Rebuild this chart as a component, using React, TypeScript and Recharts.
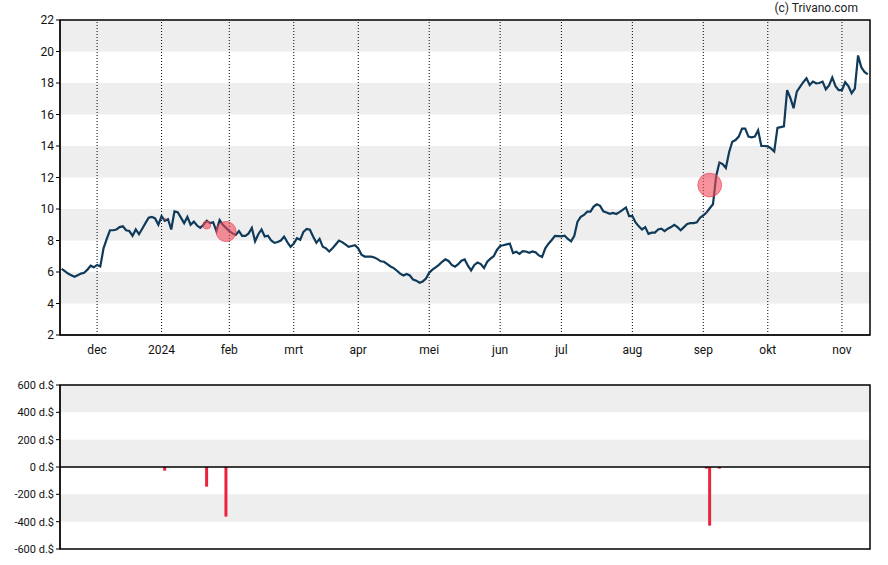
import React from "react";
import {
    ComposedChart,
    Line,
    Bar,
    XAxis,
    YAxis,
    ReferenceArea,
    ReferenceLine,
    ReferenceDot,
} from "recharts";

// closing prices per trading day, grouped by month
const nov23 = [6.2, 6.05, 5.9, 5.8, 5.7, 5.8, 5.9, 5.95, 6.15, 6.4, 6.3];
const dec23 = [6.45, 6.35, 7.5, 8.1, 8.65, 8.65, 8.7, 8.85, 8.9, 8.65, 8.6, 8.3, 8.7, 8.4, 8.75, 9.1, 9.45, 9.5, 9.4, 9.0];
const jan24 = [9.55, 9.25, 9.35, 8.7, 9.85, 9.8, 9.45, 9.1, 9.5, 9.0, 9.2, 8.95, 8.8, 9.0, 9.25, 9.1, 9.15, 8.6, 9.3, 9.0, 8.8];
const feb24 = [8.6, 8.45, 8.35, 8.6, 8.3, 8.3, 8.45, 8.8, 7.95, 8.4, 8.7, 8.25, 8.3, 8.0, 7.85, 7.9, 8.0, 8.25, 7.9, 7.6];
const mar24 = [7.8, 8.15, 8.05, 8.55, 8.73, 8.68, 8.25, 7.85, 8.1, 7.6, 7.5, 7.3, 7.5, 7.75, 8.0, 7.9, 7.75, 7.6, 7.65, 7.7];
const apr24 = [7.5, 7.1, 6.98, 6.97, 6.97, 6.92, 6.82, 6.68, 6.65, 6.5, 6.35, 6.25, 6.08, 5.9, 5.78, 5.88, 5.78, 5.52, 5.45, 5.32, 5.4, 5.58];
const may24 = [5.95, 6.15, 6.3, 6.45, 6.65, 6.8, 6.7, 6.45, 6.34, 6.5, 6.72, 6.8, 6.4, 6.1, 6.45, 6.6, 6.5, 6.25, 6.65, 6.85, 7.0, 7.4];
const jun24 = [7.65, 7.7, 7.75, 7.8, 7.2, 7.28, 7.15, 7.33, 7.3, 7.22, 7.3, 7.25, 7.05, 6.95, 7.5, 7.8, 8.03, 8.29, 8.28];
const jul24 = [8.26, 8.3, 8.1, 7.95, 8.3, 9.2, 9.5, 9.62, 9.83, 9.83, 10.15, 10.3, 10.2, 9.85, 9.78, 9.7, 9.75, 9.68, 9.8, 9.95, 10.1, 9.55];
const aug24 = [9.55, 9.15, 8.9, 8.7, 8.85, 8.42, 8.5, 8.5, 8.7, 8.75, 8.6, 8.75, 8.85, 9.0, 8.85, 8.65, 8.85, 9.05, 9.1, 9.1, 9.15, 9.45];
const sep24 = [9.6, 9.78, 10.05, 10.3, 12.1, 12.95, 12.85, 12.6, 13.6, 14.27, 14.38, 14.6, 15.1, 15.1, 14.6, 14.55, 14.6, 15.0, 14.0, 14.0];
const oct24 = [13.98, 13.85, 13.65, 15.15, 15.2, 15.25, 17.55, 17.05, 16.4, 17.45, 17.75, 18.05, 18.3, 17.87, 18.09, 17.98, 18.0, 18.09, 17.6, 17.85, 18.35, 17.8, 17.55];
const nov24 = [17.55, 18.05, 17.8, 17.35, 17.65, 19.75, 19.0, 18.7, 18.55];

const months = [nov23, dec23, jan24, feb24, mar24, apr24, may24, jun24, jul24, aug24, sep24, oct24, nov24];
const monthLabels = ["", "dec", "2024", "feb", "mrt", "apr", "mei", "jun", "jul", "aug", "sep", "okt", "nov"];

// insider trades: trading-day index, value (d.$), price
const tradeDay = [32, 45, 51, 200, 201, 204];
const tradeValue = [-27, -144, -363, -12, -429, -12];
const tradePrice = [9.37, 8.98, 8.57, 9.8, 11.52, 12.9];

const priceBands = [[20, 22], [16, 18], [12, 14], [8, 10], [4, 6]];
const priceTicks = [2, 4, 6, 8, 10, 12, 14, 16, 18, 20, 22];
const tradeBands = [[400, 600], [0, 200], [-400, -200]];
const tradeTicks = [-600, -400, -200, 0, 200, 400, 600];

const prices = months.flat();
const priceData = prices.map((p, i) => ({ i, p }));

const monthStarts: number[] = [];
const tickLabel: Record<number, string> = {};
let acc = 0;
months.forEach((m, k) => {
    if (k > 0) {
        monthStarts.push(acc);
        tickLabel[acc] = monthLabels[k];
    }
    acc += m.length;
});

const tradeData = tradeDay.map((i, k) => ({ i, v: tradeValue[k] }));

const xDomain = [-0.5, 250.7];
const font = "Roboto, 'Noto Sans', sans-serif";

export default function App() {
    return (
        <div
            style={{
                position: "absolute",
                left: 0,
                top: 0,
                width: 888,
                height: 565,
                background: "#fff",
                fontFamily: font,
            }}
        >
            <div
                style={{
                    position: "absolute",
                    right: 30,
                    top: 1,
                    fontSize: 12,
                    color: "#222",
                }}
            >
                (c) Trivano.com
            </div>
            <ComposedChart
                width={888}
                height={360}
                data={priceData}
                margin={{ top: 20, right: 18, left: 0, bottom: 0 }}
                style={{ position: "absolute", left: 0, top: 0 }}
            >
                {priceBands.map(([a, b]) => (
                    <ReferenceArea
                        key={a}
                        x1={xDomain[0]}
                        x2={xDomain[1]}
                        y1={a}
                        y2={b}
                        fill="#eeeeee"
                        fillOpacity={1}
                        stroke="none"
                    />
                ))}
                {monthStarts.map((m) => (
                    <ReferenceLine
                        key={m}
                        x={m}
                        stroke="#000"
                        strokeDasharray="1 2"
                        strokeWidth={1}
                    />
                ))}
                <XAxis
                    dataKey="i"
                    type="number"
                    domain={xDomain}
                    ticks={monthStarts}
                    tickFormatter={(v: number) => tickLabel[v] ?? ""}
                    tickLine={false}
                    tickSize={0}
                    tickMargin={10}
                    axisLine={{ stroke: "#000" }}
                    tick={{ fontSize: 12, fill: "#111", fontFamily: font }}
                    height={25}
                    interval={0}
                />
                <YAxis
                    dataKey="p"
                    type="number"
                    domain={[2, 22]}
                    ticks={priceTicks}
                    width={60}
                    tickSize={4}
                    tickMargin={2}
                    axisLine={{ stroke: "#000" }}
                    tickLine={{ stroke: "#000" }}
                    tick={{ fontSize: 12, fill: "#111", fontFamily: font }}
                    interval={0}
                />
                <Line
                    dataKey="p"
                    type="linear"
                    stroke="#0f3a5a"
                    strokeWidth={2.2}
                    dot={false}
                    isAnimationActive={false}
                />
                {tradeDay.map((d, k) => (
                    <ReferenceDot
                        key={d}
                        x={d}
                        y={tradePrice[k]}
                        r={Math.abs(tradeValue[k]) / 36}
                        fill="#f04a5a"
                        fillOpacity={0.6}
                        stroke="#e83a4c"
                        strokeOpacity={0.6}
                        strokeWidth={1}
                    />
                ))}
                <ReferenceArea
                    x1={xDomain[0]}
                    x2={xDomain[1]}
                    y1={2}
                    y2={22}
                    fill="none"
                    stroke="#000"
                    strokeWidth={1.5}
                />
            </ComposedChart>
            <ComposedChart
                width={888}
                height={205}
                data={tradeData}
                margin={{ top: 25, right: 18, left: 0, bottom: 16 }}
                style={{ position: "absolute", left: 0, top: 360 }}
            >
                {tradeBands.map(([a, b]) => (
                    <ReferenceArea
                        key={a}
                        x1={xDomain[0]}
                        x2={xDomain[1]}
                        y1={a}
                        y2={b}
                        fill="#eeeeee"
                        fillOpacity={1}
                        stroke="none"
                    />
                ))}
                <XAxis dataKey="i" type="number" domain={xDomain} hide />
                <YAxis
                    type="number"
                    domain={[-600, 600]}
                    ticks={tradeTicks}
                    width={60}
                    tickSize={4}
                    tickMargin={2}
                    axisLine={{ stroke: "#000" }}
                    tickLine={{ stroke: "#000" }}
                    tickFormatter={(v: number) => `${v} d.$`}
                    tick={{ fontSize: 11, fill: "#111", fontFamily: font }}
                    interval={0}
                />
                <ReferenceLine y={0} stroke="#000" strokeWidth={1.5} />
                <Bar
                    dataKey="v"
                    fill="#e8253c"
                    barSize={3}
                    isAnimationActive={false}
                />
                <ReferenceArea
                    x1={xDomain[0]}
                    x2={xDomain[1]}
                    y1={-600}
                    y2={600}
                    fill="none"
                    stroke="#000"
                    strokeWidth={1.5}
                />
            </ComposedChart>
        </div>
    );
}
